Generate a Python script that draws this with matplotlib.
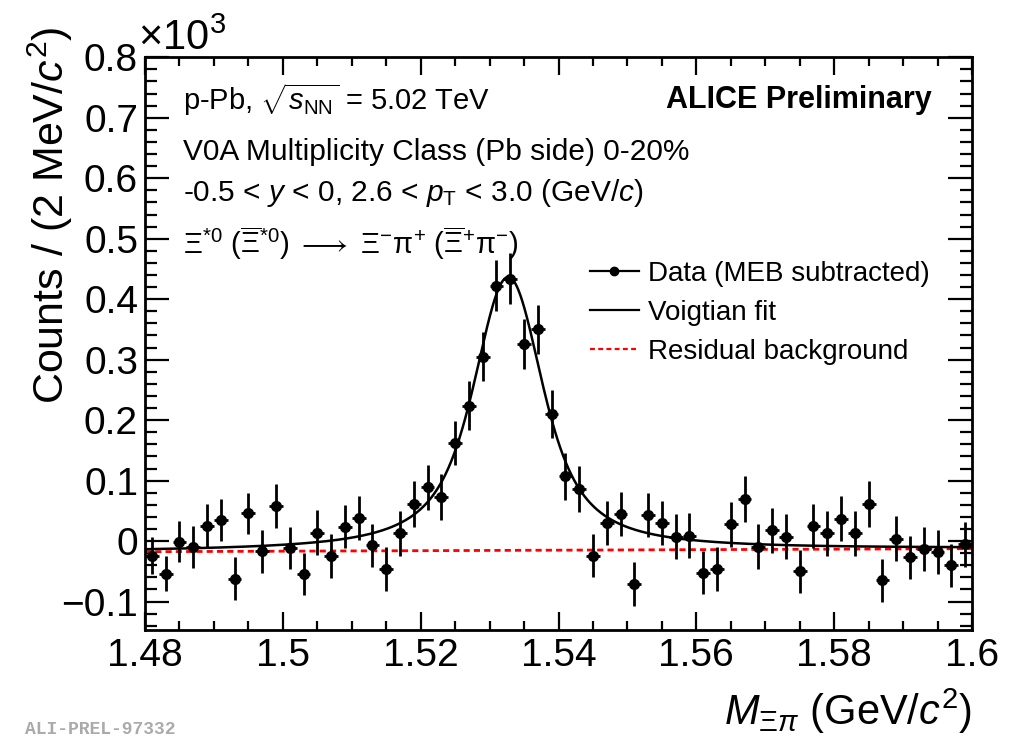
import numpy as np
import matplotlib
matplotlib.use("Agg")
import matplotlib.pyplot as plt
from matplotlib.lines import Line2D
from matplotlib.ticker import MultipleLocator, FuncFormatter

# ---------------- data (counts in units of 10^3) ----------------
mass = [1.481, 1.483, 1.485, 1.487, 1.489, 1.491, 1.493, 1.495, 1.497, 1.499,
        1.501, 1.503, 1.505, 1.507, 1.509, 1.511, 1.513, 1.515, 1.517, 1.519,
        1.521, 1.523, 1.525, 1.527, 1.529, 1.531, 1.533, 1.535, 1.537, 1.539,
        1.541, 1.543, 1.545, 1.547, 1.549, 1.551, 1.553, 1.555, 1.557, 1.559,
        1.561, 1.563, 1.565, 1.567, 1.569, 1.571, 1.573, 1.575, 1.577, 1.579,
        1.581, 1.583, 1.585, 1.587, 1.589, 1.591, 1.593, 1.595, 1.597, 1.599]
counts = [-0.024, -0.054, -0.001, -0.010, 0.025, 0.035, -0.062, 0.046, -0.017, 0.058,
          -0.011, -0.054, 0.014, -0.025, 0.024, 0.038, -0.007, -0.046, 0.013, 0.061,
          0.089, 0.073, 0.162, 0.224, 0.305, 0.422, 0.434, 0.326, 0.350, 0.210,
          0.107, 0.086, -0.024, 0.030, 0.045, -0.071, 0.043, 0.030, 0.007, 0.009,
          -0.052, -0.046, 0.028, 0.069, -0.009, 0.018, 0.007, -0.050, 0.025, 0.013,
          0.037, 0.013, 0.062, -0.065, 0.004, -0.027, -0.013, -0.018, -0.040, -0.005]
errors = [0.030, 0.029, 0.034, 0.035, 0.036, 0.035, 0.035, 0.034, 0.035, 0.036,
          0.035, 0.035, 0.037, 0.036, 0.036, 0.036, 0.036, 0.036, 0.037, 0.038,
          0.037, 0.038, 0.036, 0.040, 0.040, 0.042, 0.042, 0.041, 0.041, 0.040,
          0.039, 0.038, 0.036, 0.037, 0.037, 0.036, 0.037, 0.037, 0.037, 0.037,
          0.036, 0.036, 0.037, 0.038, 0.037, 0.037, 0.037, 0.036, 0.037, 0.037,
          0.037, 0.037, 0.038, 0.036, 0.037, 0.036, 0.037, 0.037, 0.036, 0.037]
bin_half_width = 0.001

# fit parameters (Voigtian + linear residual background)
fit_mass = 1.5327
fit_sigma = 0.0025
fit_width = 0.0091
fit_amp = 0.452
bg_left = -0.0175   # value at 1.48
bg_right = -0.0125  # value at 1.60

x_range = (1.48, 1.60)
y_range = (-0.147, 0.8005)

# ---------------- style ----------------
plt.rcParams['font.family'] = ['Liberation Sans', 'DejaVu Sans']
plt.rcParams['mathtext.fontset'] = 'custom'
plt.rcParams['mathtext.rm'] = 'Liberation Sans'
plt.rcParams['mathtext.it'] = 'Liberation Sans:italic'
plt.rcParams['mathtext.bf'] = 'Liberation Sans:bold'

fig = plt.figure(figsize=(10.17, 7.36), dpi=100)
fig.patch.set_facecolor('white')
ax = fig.add_axes([145/1017, 1-630/736, (972-145)/1017, (630-57)/736])

# model curves
xf = np.linspace(x_range[0], x_range[1], 1200)
t = np.linspace(-6*fit_sigma, 6*fit_sigma, 801)
g = np.exp(-0.5*(t/fit_sigma)**2)
hw = fit_width/2
def voigt(x):
    x = np.atleast_1d(x)
    L = hw / ((x[:, None] - fit_mass - t[None, :])**2 + hw**2)
    return (L*g).sum(axis=1)
shape = voigt(xf) / voigt(fit_mass)[0]
bg = bg_left + (bg_right - bg_left) * (xf - x_range[0]) / (x_range[1] - x_range[0])
fit = bg + fit_amp * shape

ax.plot(xf, bg, color='#ff0000', lw=2, ls=(0, (2.2, 1.5)), zorder=2)
ax.plot(xf, fit, color='black', lw=1.8, zorder=3)
ax.errorbar(mass, counts, yerr=errors, xerr=bin_half_width, fmt='o', color='black',
            ms=7, elinewidth=2, capsize=0, zorder=4)

ax.set_xlim(*x_range)
ax.set_ylim(*y_range)

ax.xaxis.set_major_locator(MultipleLocator(0.02))
ax.xaxis.set_minor_locator(MultipleLocator(0.005))
ax.yaxis.set_major_locator(MultipleLocator(0.1))
ax.yaxis.set_minor_locator(MultipleLocator(0.02))

def xfmt(v, p):
    s = f"{v:.2f}".rstrip('0').rstrip('.')
    return s
def yfmt(v, p):
    if abs(v) < 1e-9:
        return "0"
    s = f"{v:.1f}"
    return s.replace('-', '\u2212')
ax.xaxis.set_major_formatter(FuncFormatter(xfmt))
ax.yaxis.set_major_formatter(FuncFormatter(yfmt))

ax.tick_params(axis='both', which='both', direction='in', top=True, right=True,
               width=1.6, labelsize=28)
ax.tick_params(axis='y', which='major', length=17, pad=5)
ax.tick_params(axis='y', which='minor', length=8.5)
ax.tick_params(axis='x', which='major', length=13, pad=6)
ax.tick_params(axis='x', which='minor', length=6.5)
for sp in ax.spines.values():
    sp.set_linewidth(2)

# axis labels
fig.text(50/1017, 1-26/736, r'Counts / (2 MeV/$c^{2}$)', rotation=90,
         ha='center', va='top', fontsize=31)
fig.text(972/1017, 1-711/736, r'$M_{\Xi\pi}$ (GeV/$c^{2}$)', ha='right',
         va='center', fontsize=30)
fig.text(138/1017, 1-50/736, r'$\times$10$^{3}$', ha='left', va='baseline',
         fontsize=30)

# annotations
ax.text(183/1017, 1-100/736, r'p-Pb, $\sqrt{s_{\mathrm{NN}}}$ = 5.02 TeV',
        transform=fig.transFigure, fontsize=21, va='center', ha='left')
ax.text(932/1017, 1-100/736, 'ALICE Preliminary', transform=fig.transFigure,
        fontsize=22, fontweight='bold', va='center', ha='right')
ax.text(183/1017, 1-152/736, 'V0A Multiplicity Class (Pb side) 0-20%',
        transform=fig.transFigure, fontsize=21.5, va='center', ha='left')
ax.text(183/1017, 1-193/736, r'-0.5 < $y$ < 0, 2.6 < $p_{\mathrm{T}}$ < 3.0 (GeV/$c$)',
        transform=fig.transFigure, fontsize=21.5, va='center', ha='left')
ax.text(183/1017, 1-243/736,
        r'$\mathrm{Ξ}^{*0}$ ($\overline{\mathrm{Ξ}}^{*0}$) $\longrightarrow$ '
        r'$\mathrm{Ξ}^{-}\mathrm{π}^{+}$ ($\overline{\mathrm{Ξ}}^{+}\mathrm{π}^{-}$)',
        transform=fig.transFigure, fontsize=21, va='center', ha='left')

# legend
handles = [Line2D([], [], color='black', lw=1.6, marker='o', ms=6),
           Line2D([], [], color='black', lw=1.6),
           Line2D([], [], color='#ff0000', lw=1.6, ls=(0, (2.2, 1.5)))]
labels = ['Data (MEB subtracted)', 'Voigtian fit', 'Residual background']
fig.legend(handles, labels, loc='upper left', bbox_to_anchor=(590/1017, 1-261/736),
           frameon=False, fontsize=20, handlelength=1.75, handletextpad=0.35,
           labelspacing=0.47, borderpad=0.0, borderaxespad=0.0)

fig.text(25/1017, 1-729/736, 'ALI-PREL-97332', color='#aaaaaa', fontsize=13,
         family='Liberation Mono', fontweight='bold', ha='left', va='center')

fig.savefig('out.png', dpi=100)
